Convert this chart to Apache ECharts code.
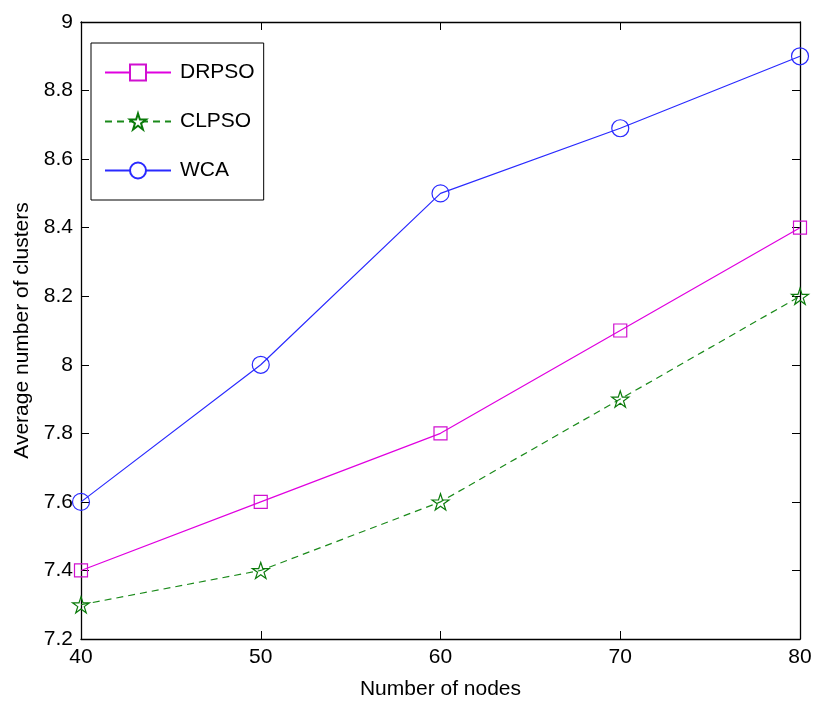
<!DOCTYPE html>
<html>
<head>
    <meta charset="utf-8" />
    <title>Average number of clusters</title>
    <script src="https://cdn.jsdelivr.net/npm/echarts@6/dist/echarts.min.js"></script>
    <style>
        html, body { margin: 0; padding: 0; background: #fff; }
        #main { width: 814px; height: 704px; }
    </style>
</head>
<body>
    <div id="main"></div>
    <script type="text/javascript">
        // data
        var nodes = [40, 50, 60, 70, 80];
        var drpso = [7.4, 7.6, 7.8, 8.1, 8.4];
        var clpso = [7.3, 7.4, 7.6, 7.9, 8.2];
        var wca = [7.6, 8.0, 8.5, 8.69, 8.9];

        var starPath = 'path://M100,0 L122.45,69.1 L195.1,69.1 L136.3,111.8 L158.8,180.9 L100,138.2 L41.2,180.9 L63.7,111.8 L4.9,69.1 L77.55,69.1 Z';
        var font = 'Liberation Sans, Arial, sans-serif';

        function pairs(ys) {
            var out = [];
            for (var i = 0; i < nodes.length; i++) {
                out.push([nodes[i], ys[i]]);
            }
            return out;
        }

        var myChart = echarts.init(document.getElementById('main'));

        var axisLine = { show: true, lineStyle: { color: '#000', width: 1.3 } };
        var tick = { show: true, inside: true, length: 8, lineStyle: { color: '#000', width: 1 } };

        var option = {
            animation: false,
            backgroundColor: '#fff',
            grid: {
                left: 81,
                right: 14,
                top: 22,
                bottom: 65,
                containLabel: false,
                outerBoundsMode: 'none'
            },
            legend: {
                orient: 'vertical',
                left: 91,
                top: 43,
                padding: [19, 9, 19, 13],
                itemWidth: 66,
                itemHeight: 20,
                itemGap: 28,
                borderColor: '#000',
                borderWidth: 1,
                backgroundColor: '#fff',
                textStyle: {
                    fontFamily: font,
                    fontSize: 21,
                    color: '#000',
                    padding: [0, 0, 0, 4]
                },
                data: [
                    { name: 'DRPSO', itemStyle: { color: '#fff' } },
                    { name: 'CLPSO', itemStyle: { color: '#fff' } },
                    { name: 'WCA', itemStyle: { color: '#fff' } }
                ]
            },
            xAxis: [
                {
                    type: 'value',
                    min: 40,
                    max: 80,
                    interval: 10,
                    name: 'Number of nodes',
                    nameLocation: 'middle',
                    nameGap: 40,
                    nameTextStyle: { fontFamily: font, fontSize: 21, color: '#000' },
                    axisLine: axisLine,
                    axisTick: tick,
                    axisLabel: { fontFamily: font, fontSize: 21, color: '#000', margin: 8 },
                    splitLine: { show: false }
                },
                {
                    type: 'value',
                    position: 'top',
                    min: 40,
                    max: 80,
                    interval: 10,
                    axisLine: axisLine,
                    axisTick: tick,
                    axisLabel: { show: false },
                    splitLine: { show: false }
                }
            ],
            yAxis: [
                {
                    type: 'value',
                    min: 7.2,
                    max: 9,
                    interval: 0.2,
                    name: 'Average number of clusters',
                    nameLocation: 'middle',
                    nameGap: 47,
                    nameTextStyle: { fontFamily: font, fontSize: 21, color: '#000' },
                    axisLine: axisLine,
                    axisTick: tick,
                    axisLabel: {
                        fontFamily: font,
                        fontSize: 21,
                        color: '#000',
                        margin: 8,
                        formatter: function (v) {
                            return String(Math.round(v * 10) / 10);
                        }
                    },
                    splitLine: { show: false }
                },
                {
                    type: 'value',
                    position: 'right',
                    min: 7.2,
                    max: 9,
                    interval: 0.2,
                    axisLine: axisLine,
                    axisTick: tick,
                    axisLabel: { show: false },
                    splitLine: { show: false }
                }
            ],
            series: [
                {
                    name: 'DRPSO',
                    type: 'line',
                    data: pairs(drpso),
                    symbol: 'rect',
                    symbolSize: 13,
                    lineStyle: { color: '#e000e0', width: 1.2 },
                    itemStyle: { color: 'none', borderColor: '#d010d0', borderWidth: 1.2 }
                },
                {
                    name: 'CLPSO',
                    type: 'line',
                    data: pairs(clpso),
                    symbol: starPath,
                    symbolKeepAspect: true,
                    symbolSize: 17,
                    lineStyle: { color: '#1a8a1a', width: 1.2, type: [7, 5] },
                    itemStyle: { color: 'none', borderColor: '#0a7a0a', borderWidth: 1.2 }
                },
                {
                    name: 'WCA',
                    type: 'line',
                    data: pairs(wca),
                    symbol: 'circle',
                    symbolSize: 17,
                    lineStyle: { color: '#2a2aff', width: 1.2 },
                    itemStyle: { color: 'none', borderColor: '#2a2aff', borderWidth: 1.2 }
                }
            ]
        };

        myChart.setOption(option);
    </script>
</body>
</html>
